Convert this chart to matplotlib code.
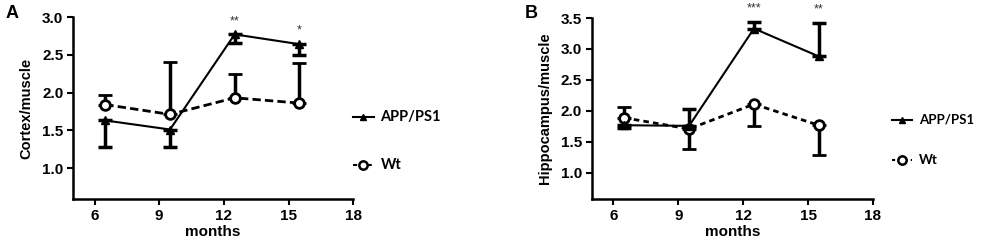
import matplotlib
matplotlib.use("Agg")
import matplotlib.pyplot as plt
from matplotlib.lines import Line2D
import numpy as np

plt.rcParams['font.family'] = ['Liberation Sans', 'DejaVu Sans']
plt.rcParams['font.weight'] = 'bold'

months = [6.5, 9.5, 12.5, 15.5]

# panel A: cortex/muscle
a_app = [1.63, 1.51, 2.77, 2.64]
a_app_lo = [1.28, 1.28, 2.66, 2.50]
a_app_hi = [1.63, 1.51, 2.77, 2.64]
a_wt = [1.84, 1.71, 1.93, 1.86]
a_wt_lo = [1.84, 1.71, 1.93, 1.86]
a_wt_hi = [1.97, 2.40, 2.24, 2.39]
a_stars = ['', '', '**', '*']

# panel B: hippocampus/muscle
b_app = [1.77, 1.76, 3.33, 2.88]
b_app_lo = [1.73, 1.76, 3.33, 2.88]
b_app_hi = [1.77, 2.03, 3.44, 3.42]
b_wt = [1.89, 1.71, 2.11, 1.77]
b_wt_lo = [1.89, 1.39, 1.76, 1.29]
b_wt_hi = [2.06, 1.71, 2.11, 1.77]
b_stars = ['', '', '***', '**']


def panel(ax, app, app_lo, app_hi, wt, wt_lo, wt_hi, stars, ylim, yticks, ylabel, wt_ls):
    app = np.array(app)
    wt = np.array(wt)
    app_err = [app - np.array(app_lo), np.array(app_hi) - app]
    wt_err = [wt - np.array(wt_lo), np.array(wt_hi) - wt]
    ax.errorbar(months, wt, yerr=wt_err, color='black', ls=wt_ls, lw=2,
                marker='o', ms=7, mfc='white', mec='black', mew=2,
                ecolor='black', elinewidth=2.5, capsize=5, capthick=2.5, zorder=2)
    ax.errorbar(months, app, yerr=app_err, color='black', ls='-', lw=1.5,
                marker='^', ms=6, mfc='black', mec='black',
                ecolor='black', elinewidth=2.5, capsize=5, capthick=2.5, zorder=3)
    for x, y, hi, s in zip(months, app, app_hi, stars):
        if s:
            ax.text(x, max(y, hi) + 0.04 * (ylim[1] - ylim[0]), s, ha='center', va='bottom',
                    fontsize=9, fontweight='normal', color='#333333')
    ax.set_xlim(5, 18)
    ax.set_ylim(*ylim)
    ax.set_xticks([6, 9, 12, 15, 18])
    ax.set_yticks(yticks)
    ax.set_yticklabels(['%.1f' % t for t in yticks])
    ax.spines['top'].set_visible(False)
    ax.spines['right'].set_visible(False)
    ax.spines['left'].set_bounds(ylim[0], yticks[-1])
    for sp in ('left', 'bottom'):
        ax.spines[sp].set_linewidth(1.8)
    ax.tick_params(width=1.5, length=4, labelsize=11, pad=3)
    for lbl in ax.get_xticklabels() + ax.get_yticklabels():
        lbl.set_fontweight('bold')
    ax.set_xlabel('months', fontsize=11, fontweight='bold', labelpad=2)
    ax.set_ylabel(ylabel, fontsize=10.5, fontweight='bold', labelpad=6)


fig = plt.figure(figsize=(9.83, 2.5), dpi=100)
ax1 = fig.add_axes([0.0743, 0.204, 0.285, 0.728])
ax2 = fig.add_axes([0.602, 0.204, 0.286, 0.724])

panel(ax1, a_app, a_app_lo, a_app_hi, a_wt, a_wt_lo, a_wt_hi, a_stars,
      (0.59, 3.0), [1.0, 1.5, 2.0, 2.5, 3.0], 'Cortex/muscle', (0, (3, 1.5)))
panel(ax2, b_app, b_app_lo, b_app_hi, b_wt, b_wt_lo, b_wt_hi, b_stars,
      (0.58, 3.5), [1.0, 1.5, 2.0, 2.5, 3.0, 3.5], 'Hippocampus/muscle', (0, (2, 1.5)))

fig.text(0.006, 0.93, 'A', fontsize=13, fontweight='bold')
fig.text(0.534, 0.93, 'B', fontsize=13, fontweight='bold')

# legend entries placed by hand, like the GraphPad layout
for lx, tx, y_app, y_wt, ls, fs in [(0.359, 0.387, 0.532, 0.34, (0, (2, 1.5)), 10.5),
                                    (0.907, 0.935, 0.52, 0.36, (0, (1.5, 1.5)), 9.5)]:
    fig.add_artist(Line2D([lx, lx + 0.021], [y_app, y_app], color='black', lw=1.5,
                          transform=fig.transFigure))
    fig.add_artist(Line2D([lx + 0.0105], [y_app], color='black', marker='^', ms=5,
                          transform=fig.transFigure))
    fig.add_artist(Line2D([lx, lx + 0.021], [y_wt, y_wt], color='black', lw=1.5, ls=ls,
                          transform=fig.transFigure))
    fig.add_artist(Line2D([lx + 0.0105], [y_wt], color='black', marker='o', ms=6,
                          mfc='white', mew=1.8, transform=fig.transFigure))
    fig.text(tx, y_app, 'APP/PS1', fontsize=fs, fontweight='bold', va='center',
             family=['Lato', 'DejaVu Sans'])
    fig.text(tx, y_wt, 'Wt', fontsize=fs, fontweight='bold', va='center',
             family=['Lato', 'DejaVu Sans'])

fig.savefig('out.png', dpi=100, facecolor='white')
